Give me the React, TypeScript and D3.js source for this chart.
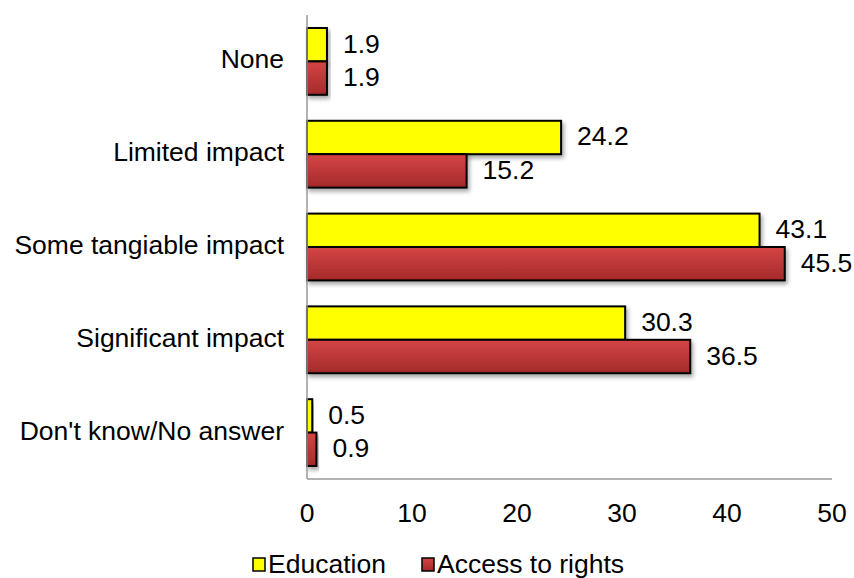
import React from "react";
import * as d3 from "d3";

const categories = [
  "None",
  "Limited impact",
  "Some tangiable impact",
  "Significant impact",
  "Don't know/No answer",
];
const educationValues = [1.9, 24.2, 43.1, 30.3, 0.5];
const accessValues = [1.9, 15.2, 45.5, 36.5, 0.9];
const seriesNames = ["Education", "Access to rights"];
const xTicks = [0, 10, 20, 30, 40, 50];

const W = 854;
const H = 578;
const FONT = "'Liberation Sans', Arial, sans-serif";
const FS = 26.5;

export default function App() {
  const x = d3.scaleLinear().domain([0, 50]).range([307, 832]);
  const y = d3
    .scaleBand<string>()
    .domain(categories)
    .range([15, 479])
    .paddingInner(0.28)
    .paddingOuter(0.14);
  const sub = d3
    .scaleBand<string>()
    .domain(seriesNames)
    .range([0, y.bandwidth()]);

  const series = [
    { name: seriesNames[0], values: educationValues, fill: "#ffff00" },
    { name: seriesNames[1], values: accessValues, fill: "url(#redGrad)" },
  ];

  return (
    <svg
      width={W}
      height={H}
      style={{ position: "absolute", left: 0, top: 0, background: "#fff" }}
    >
      <defs>
        <linearGradient id="redGrad" x1="0" y1="0" x2="0" y2="1">
          <stop offset="0%" stopColor="#d64545" />
          <stop offset="100%" stopColor="#a32a2a" />
        </linearGradient>
        <filter id="shadow" x="-10%" y="-20%" width="130%" height="160%">
          <feDropShadow dx="2" dy="3" stdDeviation="2" floodColor="#000" floodOpacity="0.35" />
        </filter>
      </defs>

      {/* bars */}
      {series.map((s) =>
        categories.map((c, i) => {
          const y0 = (y(c) as number) + (sub(s.name) as number);
          const h = sub.bandwidth();
          return (
            <rect
              key={s.name + c}
              x={x(0)}
              y={y0}
              width={x(s.values[i]) - x(0)}
              height={h}
              fill={s.fill}
              stroke="#000"
              strokeWidth={2}
              filter="url(#shadow)"
            />
          );
        })
      )}

      {/* axes */}
      <line x1={x(0)} x2={x(0)} y1={15} y2={479} stroke="#9a9a9a" strokeWidth={1.5} />
      <line x1={x(0)} x2={x(50)} y1={479} y2={479} stroke="#9a9a9a" strokeWidth={1.5} />

      {/* value labels */}
      {series.map((s) =>
        categories.map((c, i) => {
          const yc = (y(c) as number) + (sub(s.name) as number) + sub.bandwidth() / 2;
          return (
            <text
              key={"l" + s.name + c}
              x={x(s.values[i]) + 16}
              y={yc + 1}
              dominantBaseline="middle"
              fontFamily={FONT}
              fontSize={FS}
              fill="#000"
            >
              {s.values[i].toFixed(1)}
            </text>
          );
        })
      )}

      {/* category labels */}
      {categories.map((c) => (
        <text
          key={"c" + c}
          x={284}
          y={(y(c) as number) + y.bandwidth() / 2}
          textAnchor="end"
          dominantBaseline="middle"
          fontFamily={FONT}
          fontSize={FS}
          fill="#000"
        >
          {c}
        </text>
      ))}

      {/* x tick labels */}
      {xTicks.map((t) => (
        <text
          key={"t" + t}
          x={x(t)}
          y={522}
          textAnchor="middle"
          fontFamily={FONT}
          fontSize={FS}
          fill="#000"
        >
          {t}
        </text>
      ))}

      {/* legend */}
      <g>
        <rect x={253} y={558} width={12} height={13} fill="#ffff00" stroke="#000" strokeWidth={1.5} />
        <text x={268} y={573} fontFamily={FONT} fontSize={FS} fill="#000">
          {seriesNames[0]}
        </text>
        <rect x={422} y={558} width={12} height={13} fill="url(#redGrad)" stroke="#000" strokeWidth={1.5} />
        <text x={437} y={573} fontFamily={FONT} fontSize={FS} fill="#000">
          {seriesNames[1]}
        </text>
      </g>
    </svg>
  );
}
